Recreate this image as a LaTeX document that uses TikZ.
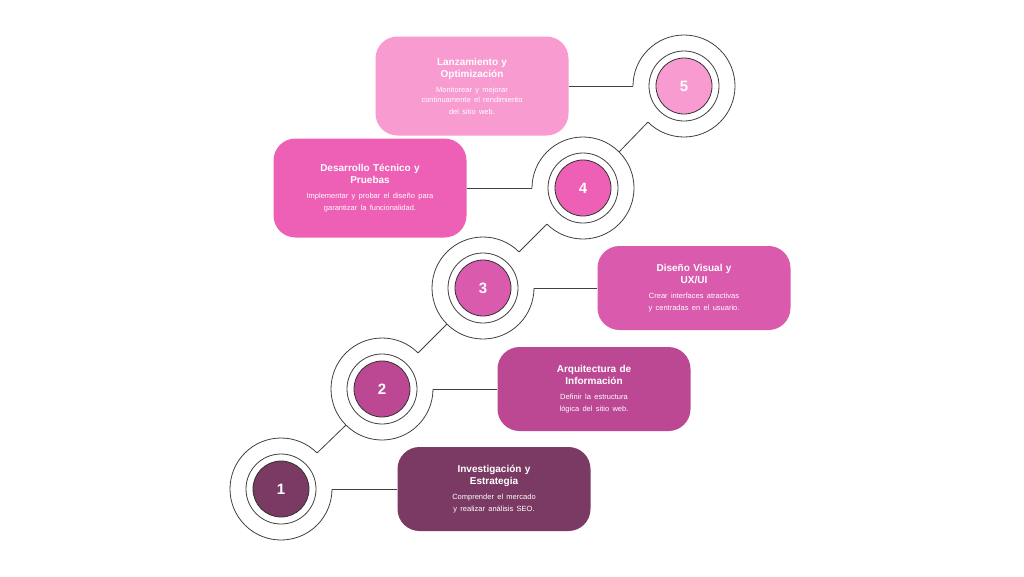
\documentclass[tikz,border=0pt]{standalone}
\usepackage{fontspec}
\setmainfont{Liberation Sans}
\usetikzlibrary{positioning, calc}
\definecolor{cOne}{HTML}{7B3A63}
\definecolor{cTwo}{HTML}{BC4893}
\definecolor{cThree}{HTML}{DA5AAE}
\definecolor{cFour}{HTML}{EE60B6}
\definecolor{cFive}{HTML}{F79BD0}
\tikzset{
  x=1pt, y=-1pt,
  stepdot/.style={circle, draw=black!80, thick, minimum size=56pt, text=white, font=\bfseries\fontsize{15}{15}\selectfont}, % filled number circle
  ring/.style={draw=black!75, line width=0.8pt},
  stepbox/.style={rounded corners=22pt, minimum width=193pt, text width=170pt, align=center, text=white},
}
\newcommand{\boxtext}[2]{{\bfseries\fontsize{10}{12}\selectfont #1}\\[6pt]{\fontsize{7.5}{9.5}\selectfont #2}}

\begin{document}
\begin{tikzpicture}
  \fill[white] (0,0) rectangle (1024,576);

  % number circles
  \node[stepdot, fill=cOne]   (C1) at (281,489) {1};
  \node[stepdot, fill=cTwo]   (C2) at (382,389) {2};
  \node[stepdot, fill=cThree] (C3) at (483,288) {3};
  \node[stepdot, fill=cFour]  (C4) at (583,188) {4};
  \node[stepdot, fill=cFive]  (C5) at (684,86)  {5};

  % boxes
  \node[stepbox, fill=cOne, minimum height=84pt]   (B1) at (494,489) {\boxtext{Investigación y\\Estrategia}{Comprender el mercado\\y realizar análisis SEO.}};
  \node[stepbox, fill=cTwo, minimum height=84pt]   (B2) at (594,389) {\boxtext{Arquitectura de\\Información}{Definir la estructura\\lógica del sitio web.}};
  \node[stepbox, fill=cThree, minimum height=84pt] (B3) at (694,288) {\boxtext{Diseño Visual y\\UX/UI}{Crear interfaces atractivas\\y centradas en el usuario.}};
  \node[stepbox, fill=cFour, minimum height=99pt]  (B4) at (370,188) {\boxtext{Desarrollo Técnico y\\Pruebas}{Implementar y probar el diseño para\\garantizar la funcionalidad.}};
  \node[stepbox, fill=cFive, minimum height=99pt]  (B5) at (472,86)  {\boxtext{Lanzamiento y\\Optimización}{Monitorear y mejorar\\continuamente el rendimiento\\del sitio web.}};

  % rings around circles
  \foreach \c in {C1,C2,C3,C4,C5}
    \draw[ring] (\c) circle[radius=35];
  \foreach \c in {C1,C2,C3}
    \draw[ring] ($(\c)+(-45:51)$) coordinate (\c ne) arc[start angle=-45, end angle=-360, radius=51];
  \foreach \c in {C4,C5}
    \draw[ring] ($(\c)+(135:51)$) coordinate (\c sw) arc[start angle=135, end angle=-180, radius=51];

  % connectors to boxes
  \draw[ring] ($(C1)+(51,0)$) -- (B1.west);
  \draw[ring] ($(C2)+(51,0)$) -- (B2.west);
  \draw[ring] ($(C3)+(51,0)$) -- (B3.west);
  \draw[ring] ($(C4)+(-51,0)$) -- (B4.east);
  \draw[ring] ($(C5)+(-51,0)$) -- (B5.east);

  % diagonal links
  \draw[ring] (C1ne) -- ($(C2)+(-36,36)$);
  \draw[ring] (C2ne) -- ($(C3)+(-36,36)$);
  \draw[ring] (C3ne) -- (C4sw);
  \draw[ring] ($(C4)+(36,-36)$) -- (C5sw);
\end{tikzpicture}
\end{document}
